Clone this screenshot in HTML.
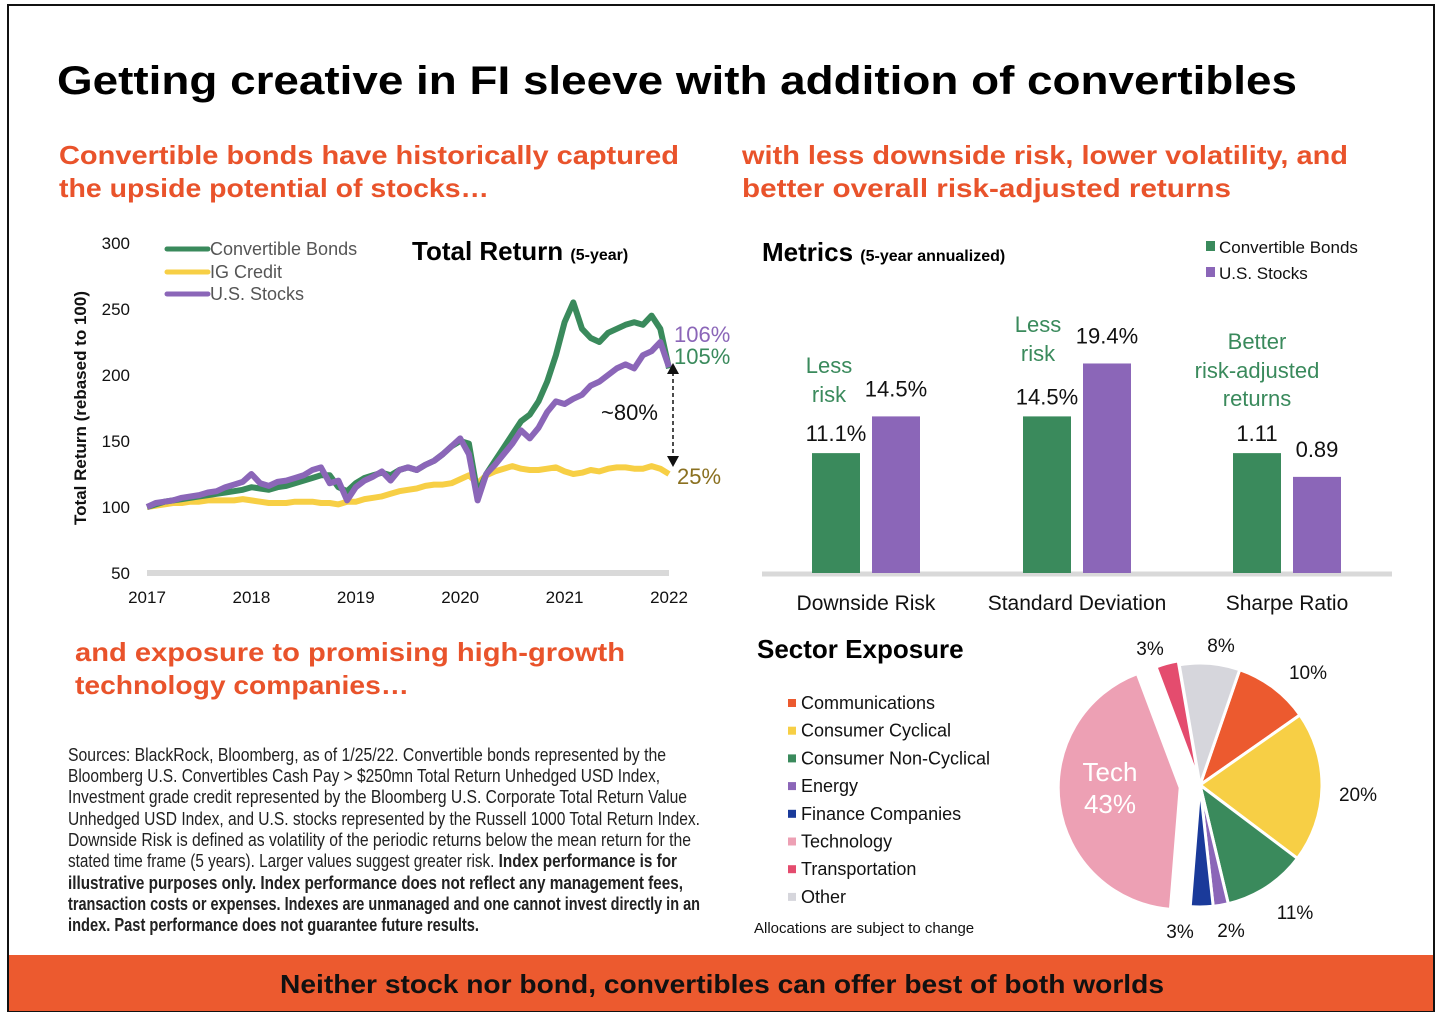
<!DOCTYPE html>
<html><head><meta charset="utf-8"><style>
html,body{margin:0;padding:0;background:#fff;}
body{width:1440px;height:1014px;overflow:hidden;position:relative;font-family:"Liberation Sans",sans-serif;}
svg{position:absolute;left:0;top:0;}
</style></head><body>
<svg width="1440" height="1014" viewBox="0 0 1440 1014" id="root">
<rect x="8" y="5" width="1426" height="1006" fill="#fff" stroke="#111" stroke-width="2"/>
<text x="57" y="94" font-size="40" font-weight="bold" fill="#000" textLength="1240" lengthAdjust="spacingAndGlyphs">Getting creative in FI sleeve with addition of convertibles</text>
<g font-size="26" font-weight="bold" fill="#e9532b">
<text x="59" y="164" textLength="620" lengthAdjust="spacingAndGlyphs">Convertible bonds have historically captured</text>
<text x="59" y="197" textLength="430" lengthAdjust="spacingAndGlyphs">the upside potential of stocks…</text>
<text x="742" y="164" textLength="606" lengthAdjust="spacingAndGlyphs">with less downside risk, lower volatility, and</text>
<text x="742" y="197" textLength="489" lengthAdjust="spacingAndGlyphs">better overall risk-adjusted returns</text>
<text x="75" y="661" textLength="550" lengthAdjust="spacingAndGlyphs">and exposure to promising high-growth</text>
<text x="75" y="694" textLength="334" lengthAdjust="spacingAndGlyphs">technology companies…</text>
</g>
<g id="line-chart"></g>
<g id="bar-chart"></g>
<g id="pie-chart"></g>
<g font-size="18" fill="#222" font-family="Liberation Sans Narrow, Liberation Sans, sans-serif">
<text x="68" y="761" textLength="598" lengthAdjust="spacingAndGlyphs">Sources: BlackRock, Bloomberg, as of 1/25/22. Convertible bonds represented by the</text>
<text x="68" y="782" textLength="592" lengthAdjust="spacingAndGlyphs">Bloomberg U.S. Convertibles Cash Pay &gt; $250mn Total Return Unhedged USD Index,</text>
<text x="68" y="803" textLength="619" lengthAdjust="spacingAndGlyphs">Investment grade credit represented by the Bloomberg U.S. Corporate Total Return Value</text>
<text x="68" y="825" textLength="632" lengthAdjust="spacingAndGlyphs">Unhedged USD Index, and U.S. stocks represented by the Russell 1000 Total Return Index.</text>
<text x="68" y="846" textLength="623" lengthAdjust="spacingAndGlyphs">Downside Risk is defined as volatility of the periodic returns below the mean return for the</text>
<text x="68" y="867" textLength="609" lengthAdjust="spacingAndGlyphs">stated time frame (5 years). Larger values suggest greater risk. <tspan font-weight="bold">Index performance is for</tspan></text>
<text x="68" y="889" font-weight="bold" textLength="615" lengthAdjust="spacingAndGlyphs">illustrative purposes only.  Index performance does not reflect any management fees,</text>
<text x="68" y="910" font-weight="bold" textLength="632" lengthAdjust="spacingAndGlyphs">transaction costs or expenses. Indexes are unmanaged and one cannot invest directly in an</text>
<text x="68" y="931" font-weight="bold" textLength="411" lengthAdjust="spacingAndGlyphs">index. Past performance does not guarantee future results.</text>
</g>
<rect x="9" y="955" width="1424" height="56" fill="#ec5a2f"/>
<text x="722" y="993" text-anchor="middle" font-size="26" font-weight="bold" fill="#111" textLength="884" lengthAdjust="spacingAndGlyphs">Neither stock nor bond, convertibles can offer best of both worlds</text>
</svg>
<script>
// ---------- Line chart data ----------
const lineYears = ["2017","2018","2019","2020","2021","2022"];
const lineYTicks = [50,100,150,200,250,300];
const convertibleSeries = [100,102,104,105,106,107,108,109,110,111,112,113,115,114,113,115,116,118,120,122,124,124,115,112,118,122,124,126,124,128,130,128,132,135,140,146,150,148,110,125,135,145,155,165,170,180,195,215,240,255,235,228,225,232,235,238,240,238,245,235,205];
const igCreditSeries = [100,101,102,103,103,104,104,105,105,105,105,106,105,104,103,103,103,104,104,104,103,103,102,104,104,106,107,108,110,112,113,114,116,117,117,118,121,124,118,124,127,129,131,129,128,128,129,130,127,125,126,128,127,129,130,130,129,129,131,129,125];
const stocksSeries = [100,103,104,105,107,108,109,111,112,115,117,119,125,118,116,119,120,122,124,128,130,118,120,105,115,120,123,127,120,128,130,128,132,135,140,146,152,140,105,125,132,140,148,158,152,160,172,180,178,182,185,192,195,200,205,208,205,215,218,225,206];
// ---------- Bar chart data ----------
const barCategories = ["Downside Risk","Standard Deviation","Sharpe Ratio"];
const barConvertible = [11.1,14.5,1.11];
const barStocks = [14.5,19.4,0.89];
const barLabelsConv = ["11.1%","14.5%","1.11"];
const barLabelsStocks = ["14.5%","19.4%","0.89"];
const barScaleFactor = [1,1,10];
// ---------- Pie data ----------
const sectorNames = ["Communications","Consumer Cyclical","Consumer Non-Cyclical","Energy","Finance Companies","Technology","Transportation","Other"];
const sectorValues = [10,20,11,2,3,43,3,8];
const sectorLabels = ["10%","20%","11%","2%","3%","Tech 43%","3%","8%"];

const NS="http://www.w3.org/2000/svg";
function mk(tag,attrs,parent,txt){const e=document.createElementNS(NS,tag);for(const k in attrs)e.setAttribute(k,attrs[k]);if(txt!==undefined)e.textContent=txt;parent.appendChild(e);return e;}

// ---------- Line chart ----------
(function(){
const g=document.getElementById('line-chart');
const x0=147,x1=669,yTop=243,yBot=573;
const xs=i=>x0+(x1-x0)*i/(convertibleSeries.length-1);
const ys=v=>yBot-(v-50)/(250)*(yBot-yTop);
let base=mk('line',{x1:x0,y1:yBot,x2:x1,y2:yBot,stroke:'#d9d9d9','stroke-width':6},g);


lineYTicks.forEach(t=>{let e=mk('text',{x:130,y:ys(t)+6,'text-anchor':'end','font-size':17,fill:'#111'},g,String(t));

});
lineYears.forEach((yr,i)=>{let e=mk('text',{x:x0+(x1-x0)*i/5,y:603,'text-anchor':'middle','font-size':17,fill:'#111'},g,yr);

});
let yt=mk('text',{x:0,y:0,transform:'translate(86,408) rotate(-90)','text-anchor':'middle','font-size':17,'font-weight':'bold',fill:'#111'},g,'Total Return (rebased to 100)');


const series=[[igCreditSeries,'#f7cf45','ig-credit-line'],[convertibleSeries,'#3a8a5c','convertible-bonds-line'],[stocksSeries,'#8b66b8','us-stocks-line']];
series.forEach(([d,c,n])=>{let p=mk('polyline',{points:d.map((v,i)=>xs(i).toFixed(1)+','+ys(v).toFixed(1)).join(' '),fill:'none',stroke:c,'stroke-width':6,'stroke-linejoin':'round'},g);

});
const leg=[['Convertible Bonds','#3a8a5c',249],['IG Credit','#f7cf45',272],['U.S. Stocks','#8b66b8',294]];
leg.forEach(([t,c,y])=>{let l=mk('line',{x1:167,y1:y,x2:208,y2:y,stroke:c,'stroke-width':5,'stroke-linecap':'round'},g);


let e=mk('text',{x:210,y:y+6,'font-size':18,fill:'#555'},g,t);

});
let tt=mk('text',{x:412,y:260,'font-size':26,'font-weight':'bold',fill:'#000'},g,'Total Return ');


mk('tspan',{'font-size':16},tt,'(5-year)');
const ann=[['106%',674,342,'#8b66b8'],['105%',674,364,'#3a8a5c'],['25%',677,484,'#8a7020'],['~80%',601,420,'#111']];
ann.forEach(([t,x,y,c])=>{let e=mk('text',{x:x,y:y,'font-size':22,fill:c},g,t);

});
let ar=mk('line',{x1:673,y1:372,x2:673,y2:458,stroke:'#111','stroke-width':1.5,'stroke-dasharray':'4,3'},g);


mk('path',{d:'M667,374 L673,363 L679,374 Z M667,456 L673,467 L679,456 Z',fill:'#111'},g);
})();

// ---------- Bar chart ----------
(function(){
const g=document.getElementById('bar-chart');
const base=573,k=10.8;
const groupX=[812,1023,1233];
let ax=mk('line',{x1:762,y1:574,x2:1392,y2:574,stroke:'#d9d9d9','stroke-width':5},g);


let t=mk('text',{x:762,y:261,'font-size':26,'font-weight':'bold',fill:'#000'},g,'Metrics ');


mk('tspan',{'font-size':16},t,'(5-year annualized)');
[['Convertible Bonds','#3a8a5c',253],['U.S. Stocks','#8b66b8',279]].forEach(([n,c,y])=>{
let r=mk('rect',{x:1206,y:y-12,width:9,height:10,fill:c},g);


let e=mk('text',{x:1219,y:y,'font-size':17,fill:'#111'},g,n);

});
barCategories.forEach((c,i)=>{
const hC=barConvertible[i]*barScaleFactor[i]*k, hS=barStocks[i]*barScaleFactor[i]*k;
let b1=mk('rect',{x:groupX[i],y:base-hC,width:48,height:hC,fill:'#3a8a5c'},g);


let b2=mk('rect',{x:groupX[i]+60,y:base-hS,width:48,height:hS,fill:'#8b66b8'},g);


let l1=mk('text',{x:groupX[i]+24,y:base-hC-12,'text-anchor':'middle','font-size':22,fill:'#111'},g,barLabelsConv[i]);


let l2=mk('text',{x:groupX[i]+84,y:base-hS-20,'text-anchor':'middle','font-size':22,fill:'#111'},g,barLabelsStocks[i]);


let cl=mk('text',{x:groupX[i]+54,y:610,'text-anchor':'middle','font-size':21,fill:'#111'},g,c);


});
const notes=[['Less',829,373],['risk',829,402],['Less',1038,332],['risk',1038,361],['Better',1257,349],['risk-adjusted',1257,378],['returns',1257,406]];
notes.forEach(([s,x,y])=>{let e=mk('text',{x:x,y:y,'text-anchor':'middle','font-size':22,fill:'#3a8a5c'},g,s);

});
})();

// ---------- Pie ----------
(function(){
const g=document.getElementById('pie-chart');
const colors=['#ec5a2f','#f7cf45','#3a8a5c','#8b66b8','#1a3a9a','#eda0b4','#e44c6e','#d6d6dc'];
let t=mk('text',{x:757,y:658,'font-size':26,'font-weight':'bold',fill:'#000'},g,'Sector Exposure');


sectorNames.forEach((n,i)=>{const y=709+i*27.7;
let r=mk('rect',{x:788,y:y-10,width:8,height:8,fill:colors[i]},g);


let e=mk('text',{x:801,y:y,'font-size':18,fill:'#111'},g,n);

});
let nt=mk('text',{x:754,y:933,'font-size':15,fill:'#111'},g,'Allocations are subject to change');


const cx=1200,cy=785,R=122,total=sectorValues.reduce((a,b)=>a+b,0);
let a=19*Math.PI/180;
const lblPos=[[1308,679],[1358,801],[1295,919],[1231,937],[1180,938],[1110,792],[1150,655],[1221,652]];
sectorValues.forEach((v,i)=>{
const a2=a+v/total*2*Math.PI, mid=(a+a2)/2;
const off=i===5?20:(i===6?4:0);
const ox=cx+off*Math.sin(mid), oy=cy-off*Math.cos(mid);
const p1=[ox+R*Math.sin(a),oy-R*Math.cos(a)], p2=[ox+R*Math.sin(a2),oy-R*Math.cos(a2)];
let s=mk('path',{d:`M${ox},${oy} L${p1[0]},${p1[1]} A${R},${R} 0 ${a2-a>Math.PI?1:0} 1 ${p2[0]},${p2[1]} Z`,fill:colors[i],stroke:'#fff','stroke-width':3},g);


if(i===5){
let e1=mk('text',{x:1110,y:781,'text-anchor':'middle','font-size':26,fill:'#fff'},g,sectorLabels[i].split(' ')[0]);


let e2=mk('text',{x:1110,y:813,'text-anchor':'middle','font-size':26,fill:'#fff'},g,sectorLabels[i].split(' ')[1]);


}else{
let e=mk('text',{x:lblPos[i][0],y:lblPos[i][1],'text-anchor':'middle','font-size':19,fill:'#111'},g,sectorLabels[i]);

}
a=a2;});
})();
</script>
</body></html>
